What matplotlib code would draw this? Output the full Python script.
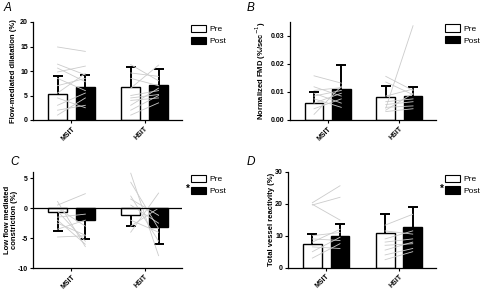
import matplotlib
matplotlib.use('Agg')
import matplotlib.pyplot as plt
import numpy as np

plt.rcParams['font.family'] = ['Liberation Sans', 'DejaVu Sans']

groups = ['MSIT', 'HSIT']
series = ['Pre', 'Post']

# Panel A: flow-mediated dilatation (%)
fmd_mean = {'Pre': [5.4, 6.7], 'Post': [6.7, 7.1]}
fmd_sd = {'Pre': [3.5, 4.15], 'Post': [2.4, 3.4]}
fmd_msit_pre = [14.9, 11.4, 10.6, 9.8, 8.5, 7.0, 5.5, 4.5, 3.0, 2.0, 1.0]
fmd_msit_post = [14.0, 9.2, 7.8, 11.0, 6.0, 8.5, 9.5, 2.5, 5.5, 3.0, 4.5]
fmd_hsit_pre = [11.3, 9.6, 8.5, 6.5, 5.0, 4.5, 4.0, 3.0, 2.0, 1.0]
fmd_hsit_post = [8.0, 8.9, 7.0, 11.2, 6.0, 5.2, 4.5, 6.5, 5.0, 3.5]

# Panel B: normalized FMD (%/sec^-1)
nfmd_mean = {'Pre': [0.0060, 0.0083], 'Post': [0.0110, 0.0086]}
nfmd_sd = {'Pre': [0.0040, 0.0038], 'Post': [0.0085, 0.0032]}
nfmd_msit_pre = [0.0157, 0.0118, 0.0105, 0.0095, 0.0085, 0.0075, 0.0060, 0.0040, 0.0020]
nfmd_msit_post = [0.0131, 0.0085, 0.0115, 0.0060, 0.0105, 0.0045, 0.0095, 0.0075, 0.0120]
nfmd_hsit_pre = [0.0042, 0.0155, 0.0135, 0.0085, 0.0065, 0.0055, 0.0045, 0.0035, 0.0030]
nfmd_hsit_post = [0.0335, 0.0105, 0.0090, 0.0110, 0.0075, 0.0065, 0.0050, 0.0095, 0.0040]

# Panel C: low flow mediated constriction (%)
lfmc_mean = {'Pre': [-0.66, -1.1], 'Post': [-2.0, -3.1]}
lfmc_sd = {'Pre': [3.2, 1.8], 'Post': [3.1, 2.9]}
lfmc_msit_pre = [1.1, 0.5, -0.5, -1.5, -2.0, -2.5, -3.5, -4.8, 0.0]
lfmc_msit_post = [-6.4, 2.4, -5.5, -1.0, -6.0, -4.5, -2.0, -4.6, -3.0]
lfmc_hsit_pre = [5.8, -4.0, 1.5, 4.3, -2.0, -3.0, 0.5, 2.0]
lfmc_hsit_post = [-7.9, 2.5, -1.2, -3.4, -4.0, 0.0, -2.5, -5.5]

# Panel D: total vessel reactivity (%)
tvr_mean = {'Pre': [7.3, 10.7], 'Post': [10.0, 12.7]}
tvr_sd = {'Pre': [3.3, 6.1], 'Post': [3.6, 6.3]}
tvr_msit_pre = [20.3, 19.6, 19.8, 10.0, 9.0, 8.0, 6.5, 5.0, 3.0]
tvr_msit_post = [25.6, 22.0, 14.9, 11.0, 8.5, 12.0, 6.0, 9.5, 7.5]
tvr_hsit_pre = [13.3, 11.5, 9.0, 8.0, 7.0, 5.5, 4.0, 2.5]
tvr_hsit_post = [16.7, 10.5, 11.5, 9.0, 7.5, 8.0, 6.0, 5.0]

W, H = 480, 291
fig = plt.figure(figsize=(W / 100, H / 100), dpi=100)


def px_axes(left, right, top, bottom):
    return fig.add_axes([left / W, 1 - bottom / H, (right - left) / W, (bottom - top) / H])


def draw_panel(ax, means, sds, subj, ylim, yticks, yticklabels, ylabel, label_x,
               letter, letter_xy, star=False):
    x = np.arange(len(groups))
    off = 0.19
    bw = 0.26
    for s, dx, fc in zip(series, [-off, off], ['white', 'black']):
        m = np.array(means[s])
        sd = np.array(sds[s])
        ax.bar(x + dx, m, bw, color=fc, edgecolor='black', linewidth=1.0, zorder=2, label=s)
        # one-sided error bar, away from zero
        tip = m + np.sign(m) * sd
        ax.vlines(x + dx, m, tip, color='black', lw=1.4, zorder=3)
        ax.plot(x + dx, tip, ls='none', marker='_', ms=7, mew=1.4, color='black', zorder=3)
    for i, (pre, post) in enumerate(subj):
        for a, b in zip(pre, post):
            ax.plot([i - off, i + off], [a, b], color='#cbcbcb', lw=0.6, zorder=4)
    ax.set_xlim(-0.525, 1.51)
    ax.set_ylim(*ylim)
    ax.set_yticks(yticks)
    ax.set_yticklabels(yticklabels, fontsize=5, fontweight='bold')
    ax.set_xticks(x)
    ax.set_xticklabels(groups, fontsize=5, fontweight='bold', rotation=45,
                       ha='right', va='top', rotation_mode='anchor')
    ax.tick_params(length=2.2, width=0.8, pad=1.5)
    for sp in ['top', 'right']:
        ax.spines[sp].set_visible(False)
    for sp in ['left', 'bottom']:
        ax.spines[sp].set_linewidth(0.9)
    ax.set_ylabel(ylabel, fontsize=5.5, fontweight='bold', linespacing=1.0)
    ax.yaxis.set_label_coords(label_x, 0.5)
    leg = ax.legend(loc='upper left', bbox_to_anchor=(1.06, 0.97), frameon=False,
                    fontsize=6, borderaxespad=0, borderpad=0, handlelength=1.8,
                    handleheight=0.95, handletextpad=0.4, labelspacing=0.4)
    for p in leg.get_patches():
        p.set_linewidth(0.8)
    if star:
        ax.text(1.04, 0.82, '*', transform=ax.transAxes, fontsize=7,
                fontweight='bold', ha='center', va='center')
    fig.text(letter_xy[0] / W, 1 - letter_xy[1] / H, letter, fontsize=8.5,
             fontstyle='italic', ha='left', va='top')


axA = px_axes(33, 182, 22, 120)
draw_panel(axA, fmd_mean, fmd_sd,
           [(fmd_msit_pre, fmd_msit_post), (fmd_hsit_pre, fmd_hsit_post)],
           (0, 20), [0, 5, 10, 15, 20], ['0', '5', '10', '15', '20'],
           'Flow-mediated dilatation (%)', -0.107, 'A', (4, 2))

axB = px_axes(290, 436, 21.5, 120)
draw_panel(axB, nfmd_mean, nfmd_sd,
           [(nfmd_msit_pre, nfmd_msit_post), (nfmd_hsit_pre, nfmd_hsit_post)],
           (0, 0.035), [0, 0.01, 0.02, 0.03], ['0.00', '0.01', '0.02', '0.03'],
           'Normalized FMD (%/sec$^{-1}$)', -0.149, 'B', (247, 2))

axC = px_axes(33, 182, 172, 268.3)
draw_panel(axC, lfmc_mean, lfmc_sd,
           [(lfmc_msit_pre, lfmc_msit_post), (lfmc_hsit_pre, lfmc_hsit_post)],
           (-10, 6), [-10, -5, 0, 5], ['-10', '-5', '0', '5'],
           'Low flow mediated\nconstriction (%)', -0.1, 'C', (10, 156), star=True)
axC.axhline(0, color='black', lw=0.9, zorder=5)

axD = px_axes(288, 436, 171.7, 267.7)
draw_panel(axD, tvr_mean, tvr_sd,
           [(tvr_msit_pre, tvr_msit_post), (tvr_hsit_pre, tvr_hsit_post)],
           (0, 30), [0, 10, 20, 30], ['0', '10', '20', '30'],
           'Total vessel reactivity (%)', -0.087, 'D', (247, 156), star=True)

plt.savefig('out.png', dpi=100)
